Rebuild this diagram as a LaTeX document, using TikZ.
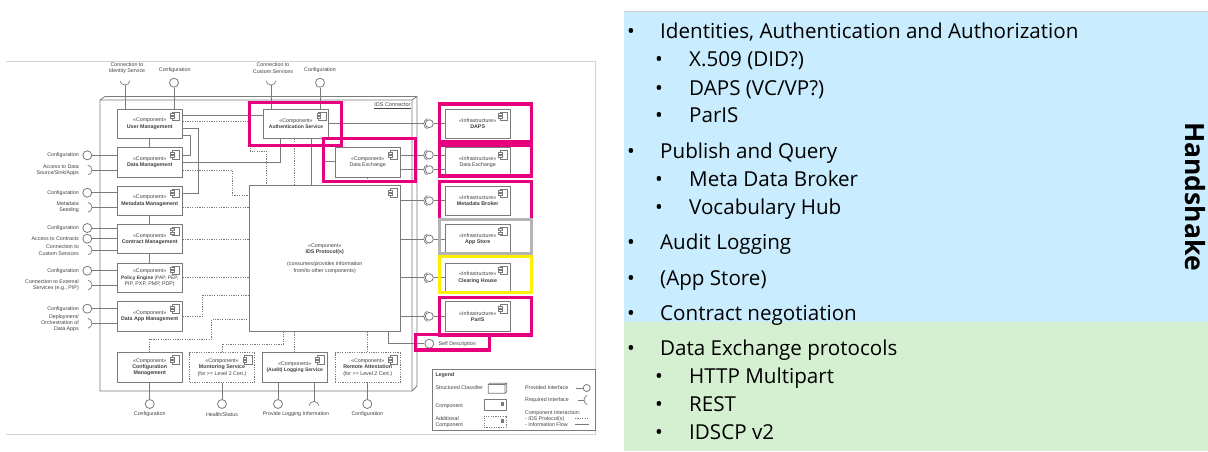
\documentclass[tikz,border=0pt]{standalone}
\usepackage{fontspec}
\setmainfont{Liberation Sans}
\newfontfamily\slidefont{Open Sans}
\definecolor{linegray}{HTML}{7A7A7A}
\definecolor{textgray}{HTML}{3F3F3F}
\definecolor{markpink}{HTML}{E6007E}
\definecolor{markyellow}{HTML}{FFF000}
\definecolor{markgray}{HTML}{B4B4B4}
\definecolor{skyblue}{HTML}{C9ECFE}
\definecolor{palegreen}{HTML}{D5F0D0}
\tikzset{
	tiny text/.style={font=\fontsize{5.3}{6.2}\selectfont, text=textgray, inner sep=0pt},
	comp/.style={draw=linegray, fill=white, line width=.8pt, minimum width=65pt, minimum height=29.3pt, align=center, tiny text},
	addcomp/.style={comp, dash pattern=on 1.2pt off 1.2pt},
	iface/.style={circle, draw=linegray, fill=white, line width=.8pt, minimum size=9pt, inner sep=0pt},
	flow/.style={draw=linegray, line width=.7pt},
	idsflow/.style={draw=linegray, line width=.7pt, dash pattern=on 1.2pt off 1.2pt},
	mark box/.style={line width=3.3pt},
	bullet one/.style={anchor=base west, font=\slidefont\fontsize{20.6}{24}\selectfont},
}
\begin{document}
\begin{tikzpicture}[x=1pt,y=-1pt]
	\useasboundingbox (0,0) rectangle (1208,451);

	% page frame of the figure
	\draw[gray!35] (6,61.5) -- (595,61.5) -- (595,434) -- (6,434);

	% connector housing
	\draw[linegray, line width=.8pt] (100,100) -- (105,96.5) -- (417,96.5) -- (417,386) -- (412,391) -- (100,391) -- cycle;
	\draw[linegray, line width=.8pt] (100,100) -- (412,100) -- (412,391) (412,100) -- (417,96.5);
	\node[tiny text, anchor=east, font=\fontsize{5.5}{6.5}\selectfont] (connector) at (410.7,105.5) {\underline{IDS Connector}};

	% components
	\node[comp] (usermgmt) at (149.7,123.7) {«Component»\\\textbf{User Management}};
	\node[comp] (datamgmt) at (149.7,162.3) {«Component»\\\textbf{Data Management}};
	\node[comp] (metamgmt) at (149.7,200.7) {«Component»\\\textbf{Metadata Management}};
	\node[comp] (contract) at (149.7,239) {«Component»\\\textbf{Contract Management}};
	\node[comp] (policy) at (149.7,277.7) {«Component»\\\fontsize{4.9}{6.2}\selectfont\textbf{Policy Engine} (PAP, PEP,\\PIP, PXP, PMP, PDP)};
	\node[comp] (dataapp) at (149.7,316.3) {«Component»\\\textbf{Data App Management}};
	\node[comp] (config) at (149.7,367.5) {«Component»\\\textbf{Configuration}\\\textbf{Management}};
	\node[addcomp] (monitor) at (222,367.5) {«Component»\\\textbf{Montoring Service}\\(for >= Level 2 Cert.)};
	\node[comp] (audit) at (294.7,367.5) {«Component»\\\fontsize{5}{6.2}\selectfont\textbf{(Audit) Logging Service}};
	\node[addcomp] (remote) at (367.7,367.5) {«Component»\\\textbf{Remote Attestation}\\(for >= Level 2 Cert.)};
	\node[comp] (auth) at (296,123.7) {«Component»\\\fontsize{5}{6.2}\selectfont\textbf{Authentication Service}};
	\node[comp] (exchange) at (367.7,162.3) {«Component»\\Data Exchange};
	\node[comp, minimum width=150.7pt, minimum height=145.6pt] (protocol) at (324.7,258.5) {«Component»\\\textbf{IDS Protocol(s)}\\[6pt](consumes/provides information\\from/to other components)};

	% infrastructure
	\foreach \n/\y/\t in {daps/123.7/\textbf{DAPS}, infdx/162.3/Data Exchange, broker/200.7/\textbf{Metadata Broker}, store/239/\textbf{App Store}, house/277.7/\textbf{Clearing House}, paris/316.3/\textbf{ParIS}} {
		\node[comp] (\n) at (477.7,\y) {«Infrastructure»\\\t};
	}

	% component icons
	\foreach \c in {usermgmt,datamgmt,metamgmt,contract,policy,dataapp,config,monitor,audit,remote,auth,exchange,protocol,daps,infdx,broker,store,house,paris} {
		\draw[linegray, line width=.6pt, fill=white] ([xshift=-10.5pt,yshift=-3.3pt]\c.north east) rectangle ++(7.5,8.4);
		\draw[linegray, line width=.6pt, fill=white] ([xshift=-12pt,yshift=-4.8pt]\c.north east) rectangle ++(3.5,2);
		\draw[linegray, line width=.6pt, fill=white] ([xshift=-12pt,yshift=-8pt]\c.north east) rectangle ++(3.5,2);
	}

	% information flow
	\draw[flow] (usermgmt.south) -- (datamgmt.north);
	\draw[flow] (metamgmt.south) -- (contract.north);
	\draw[flow] (contract.south) -- (policy.north);
	\draw[flow] (usermgmt.east |- 0,115.7) -- (auth.west |- 0,115.7);
	\draw[flow] (usermgmt.east |- 0,135) -- (190.7,135) -- (190.7,155.3) -- (datamgmt.east |- 0,155.3);
	\draw[flow] (usermgmt.east |- 0,128.3) -- (198.7,128.3) -- (198.7,193.3) -- (metamgmt.east |- 0,193.3);
	\draw[flow] (datamgmt.east) -- (280,162.3) -- (auth.south -| 280,0);
	\draw[flow] (auth.south -| 311.7,0) -- (protocol.north -| 311.7,0);
	\draw[flow] (auth.south -| 322,0) -- (322,161.7) -- (exchange.west |- 0,161.7);
	\draw[flow] (protocol.south -| 388,0) -- (388,343.7);

	% protocol flow
	\draw[idsflow] (usermgmt.east |- 0,121.7) -- (250,121.7) -- (250,151) -- (266,151) -- (protocol.north -| 266,0);
	\draw[idsflow] (auth.south -| 294,0) -- (protocol.north -| 294,0);
	\draw[idsflow] (exchange.south) -- (protocol.north -| exchange.south);
	\draw[idsflow] (datamgmt.east |- 0,170) -- (232.3,170) -- (232.3,195) -- (protocol.west |- 0,195);
	\draw[idsflow] (metamgmt.east |- 0,207.7) -- (protocol.west |- 0,207.7);
	\draw[idsflow] (contract.east) -- (protocol.west |- contract.east);
	\draw[idsflow] (policy.east) -- (protocol.west |- policy.east);
	\draw[idsflow] (dataapp.east) -- (202.7,316.3) -- (202.7,295) -- (protocol.west |- 0,295);
	\draw[idsflow] (config.north) -- (149.7,339.3) -- (211.7,339.3) -- (211.7,319.3) -- (protocol.west |- 0,319.3);
	\draw[idsflow] (monitor.north) -- (222,344) -- (283.7,344) -- (protocol.south -| 283.7,0);
	\draw[idsflow] (audit.north) -- (protocol.south -| audit.north);
	\draw[idsflow] (remote.north) -- (protocol.south -| remote.north);

	% interfaces to infrastructure
	\foreach \n/\y/\a/\b in {ifa/123.7/auth/daps, ifb/155/exchange/infdx, ifc/169.7/exchange/infdx, ifd/200.7/protocol/broker, ife/239/protocol/store, iff/277.7/protocol/house, ifg/316.3/protocol/paris} {
		\node[iface, minimum size=8pt] (\n) at (429.3,\y) {};
		\draw[flow] (\a.east |- \n) -- ([xshift=-5.5pt]\n.center);
		\draw[flow] (\n) -- (\b.west |- \n);
		\draw[flow] ([xshift=-5.5pt]\n.center) arc (180:110:5.5) ([xshift=-5.5pt]\n.center) arc (180:250:5.5);
	}
	\node[iface] (selfdesc) at (429.3,343.7) {};
	\node[tiny text, anchor=west] (selfdesctext) at (438.5,343.7) {Self Description};
	\draw[flow] (388,343.7) -- (selfdesc);

	% left side, provided
	\foreach \n/\y/\t/\c in {lpa/155.3/Configuration/datamgmt, lpb/192.7/Configuration/metamgmt, lpc/228/Configuration/contract, lpd/238.7/Access to Contracts/contract, lpe/270.7/Configuration/policy, lpf/308.7/Configuration/dataapp} {
		\node[iface] (\n) at (87.3,\y) {};
		\node[tiny text, anchor=east] (\n text) at (79,\y) {\t};
		\draw[flow] (\n) -- (\c.west |- \n);
	}
	% left side, required
	\foreach \n/\y/\t/\c in {lra/170/{Access to Data\\Source/Sink/Apps}/datamgmt, lrb/207.3/{Metadata\\Seeding}/metamgmt, lrc/250/{Connection to\\Custom Services}/contract, lrd/285/{Connection to External\\Services (e.g., PIP)}/policy, lre/323.3/{Deployment/\\Orchestration of\\Data Apps}/dataapp} {
		\coordinate (\n) at (92,\y);
		\node[tiny text, anchor=east, align=right] (\n text) at (79,\y) {\t};
		\draw[flow] (\n) -- (\c.west |- \n);
		\draw[flow] (\n) arc (0:80:5) (\n) arc (0:-80:5);
	}

	% top side
	\node[iface] (cfgtopa) at (174,82.7) {};
	\node[iface] (cfgtopb) at (320,82.7) {};
	\node[tiny text] (cfgtopatext) at (174.7,70.5) {Configuration};
	\node[tiny text] (cfgtopbtext) at (320,70.5) {Configuration};
	\draw[flow] (cfgtopa) -- (usermgmt.north -| cfgtopa);
	\draw[flow] (cfgtopb) -- (auth.north -| cfgtopb);
	\coordinate (reqidentity) at (125,85);
	\coordinate (reqcustom) at (271,85);
	\node[tiny text, align=center] (reqidentitytext) at (127,68) {Connection to\\Identity Service};
	\node[tiny text, align=center] (reqcustomtext) at (273,68) {Connection to\\Custom Services};
	\foreach \n/\c in {reqidentity/usermgmt, reqcustom/auth} {
		\draw[flow] (\n) -- (\c.north -| \n);
		\draw[flow] (\n) arc (90:10:5) (\n) arc (90:170:5);
	}

	% bottom side
	\foreach \n/\x/\c in {botcfg/149.7/config, bothealth/222/monitor, botlog/278/audit, botremote/367.3/remote} {
		\node[iface] (\n) at (\x,404) {};
		\draw[flow] (\n) -- (\c.south -| \n);
	}
	\node[tiny text] (botcfgtext) at (149.7,414.5) {Configuration};
	\node[tiny text] (bothealthtext) at (222,414.5) {Health/Status};
	\node[tiny text] (botlogtext) at (296,414.5) {Provide Logging Information};
	\node[tiny text] (botremotetext) at (367.3,414.5) {Configuration};
	\coordinate (botreq) at (314,401.5);
	\draw[flow] (botreq) -- (audit.south -| botreq);
	\draw[flow] (botreq) arc (-90:-10:5) (botreq) arc (-90:-170:5);

	% legend
	\draw[linegray, line width=.8pt] (432.7,369.3) rectangle (595,430);
	\node[tiny text, anchor=west] (legend) at (435.3,375.3) {\textbf{Legend}};
	\node[tiny text, anchor=west] (legclass) at (435.3,388) {Structured Classifier};
	\node[tiny text, anchor=west] (legcomp) at (435.3,406) {Component};
	\node[tiny text, anchor=west, align=left] (legadd) at (435.3,422) {Additional\\Component};
	\node[tiny text, anchor=west] (legprov) at (525,388) {Provided Interface};
	\node[tiny text, anchor=west] (legreq) at (525,400) {Required Interface};
	\node[tiny text, anchor=west, align=left] (legint) at (525,418.7) {Component Interaction:\\- IDS Protocol(s)\\- Information Flow};
	\draw[flow] (488.3,384.5) rectangle (505,393.3) (488.3,384.5) -- (490,383.3) -- (506.7,383.3) -- (506.7,391.8) -- (505,393.3) (505,384.5) -- (506.7,383.3);
	\node[draw=linegray, line width=.7pt, minimum width=22pt, minimum height=11pt, inner sep=0pt] (legbox) at (495,404.5) {};
	\node[draw=linegray, line width=.7pt, dash pattern=on 1.2pt off 1.2pt, minimum width=22pt, minimum height=11.7pt, inner sep=0pt] (legdash) at (495,421.8) {};
	\foreach \c in {legbox,legdash} {
		\fill[linegray] ([xshift=-5pt,yshift=-3pt]\c.north east) rectangle ++(3,4);
	}
	\node[iface, minimum size=7pt] (legcircle) at (586.7,388) {};
	\coordinate (legprovend) at (575.7,388);
	\draw[flow] (legprovend) -- (legcircle);
	\coordinate (legarc) at (584,400);
	\coordinate (legreqend) at (578,400);
	\draw[flow] (legreqend) -- (legarc);
	\draw[flow] (legarc) arc (180:110:5) (legarc) arc (180:250:5);
	\coordinate (legidsa) at (575,418.7);
	\coordinate (legidsb) at (589,418.7);
	\coordinate (leginfa) at (575,424.3);
	\coordinate (leginfb) at (589,424.3);
	\draw[idsflow] (legidsa) -- (legidsb);
	\draw[flow] (leginfa) -- (leginfb);

	% highlight boxes
	\draw[mark box, markpink] (249.5,102.5) rectangle (341.7,145.5);
	\draw[mark box, markpink] (323.3,138.3) rectangle (415.3,181.3);
	\draw[mark box, markpink] (439.3,104) rectangle (531.7,145);
	\draw[mark box, markpink] (439.3,142) rectangle (531.7,176);
	\draw[mark box, markpink] (439.3,181.7) rectangle (531.7,219.5);
	\draw[mark box, markgray] (439.3,219.5) rectangle (531.7,253.5);
	\draw[mark box, markyellow] (439.3,256.7) rectangle (531.7,292.7);
	\draw[mark box, markpink] (439.3,297.7) rectangle (531.7,335);
	\draw[mark box, markpink] (415.5,334.5) rectangle (489.5,350);

	% right panel
	\fill[skyblue] (624,11.5) rectangle (1208,322);
	\fill[palegreen] (624,322) rectangle (1208,451);
	\draw[gray!35] (624,11.5) -- (1208,11.5);
	\foreach \n/\y/\t in {ta/38/{Identities, Authentication and Authorization}, tb/158/Publish and Query, tc/249/Audit Logging, td/285/(App Store), te/320/Contract negotiation, tf/355/Data Exchange protocols} {
		\node[bullet one, inner sep=0pt] (\n) at (660,\y) {\t};
		\node[bullet one, inner sep=0pt] (\n dot) at (627,\y) {•};
	}
	\foreach \n/\y/\t in {sa/66/X.509 (DID?), sb/95/{DAPS (VC/VP?)}, sc/122/ParIS, sd/186/Meta Data Broker, se/214/Vocabulary Hub, sf/383/HTTP Multipart, sg/411/REST, sh/439/IDSCP v2} {
		\node[bullet one, inner sep=0pt] (\n) at (689,\y) {\t};
		\node[bullet one, inner sep=0pt] (\n dot) at (655,\y) {•};
	}
	\node[font=\slidefont\bfseries\fontsize{26.5}{30}\selectfont, rotate=-90] (handshake) at (1195,196.5) {Handshake};
\end{tikzpicture}
\end{document}
